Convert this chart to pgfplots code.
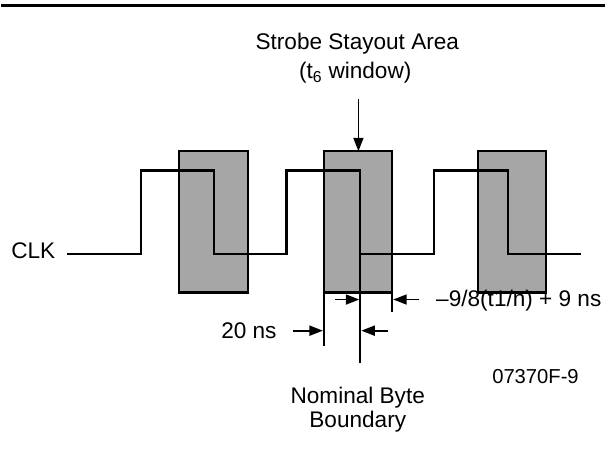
\documentclass[border=0pt]{standalone}
\usepackage{fontspec}
\setmainfont{Liberation Sans}
\usepackage{pgfplots}
\pgfplotsset{compat=1.18}
\usetikzlibrary{arrows.meta}
\definecolor{boxgray}{RGB}{166,166,166}
\tikzset{ln/.style={draw=black, line width=2.2pt, mark=none, line join=miter},
  ar/.style={draw=black, line width=1.8pt, mark=none, -{Triangle[length=13.5pt,width=10pt]}}}
\begin{document}
\fontsize{22.7}{27}\selectfont
\begin{tikzpicture}
\begin{axis}[
  width=606pt, height=458pt, scale only axis,
  xmin=0, xmax=606, ymin=0, ymax=458, y dir=reverse,
  hide axis, clip=false,
]
\path (axis cs:0,0) rectangle (axis cs:606,458);
% top rule
\addplot[ln, line width=3pt] coordinates {(0,5.8) (606,5.8)};
% stayout boxes
\addplot[ln, fill=boxgray] coordinates {(178.6,152) (247.4,152) (247.4,294) (178.6,294) (178.6,152)} -- cycle;
\addplot[ln, fill=boxgray] coordinates {(324,152) (392.7,152) (392.7,294) (324,294) (324,152)} -- cycle;
\addplot[ln, fill=boxgray] coordinates {(478.5,152) (547.4,152) (547.4,294) (478.5,294) (478.5,152)} -- cycle;
% clock
\addplot[ln] coordinates {(65.7,255.5) (140,255.5) (140,171.3) (213.4,171.3) (213.4,255.5) (286.4,255.5) (286.4,171.3) (360.6,171.3) (360.6,255.5) (434.5,255.5) (434.5,171.3) (508.7,171.3) (508.7,255.5) (582.5,255.5)};
% extension lines
\addplot[ln] coordinates {(324,294) (324,347.7)};
\addplot[ln] coordinates {(360.6,255.5) (360.6,365)};
\addplot[ln] coordinates {(392.7,294) (392.7,313.3)};
% arrows
\addplot[ar] coordinates {(358.7,99.7) (358.7,152)};
\addplot[ar] coordinates {(335,301) (359.6,301)};
\addplot[ar] coordinates {(420,301) (393.7,301)};
\addplot[ar] coordinates {(293,332.3) (323,332.3)};
\addplot[ar] coordinates {(388,332.3) (361.6,332.3)};
% texts
\node[anchor=base, inner sep=0pt] at (axis cs:357.6,50) {Strobe Stayout Area};
\node[anchor=base, inner sep=0pt] at (axis cs:355.5,79) {(t\textsubscript{6} window)};
\node[anchor=base west, inner sep=0pt] at (axis cs:9.7,260) {CLK};
\node[anchor=base west, inner sep=0pt] at (axis cs:436.7,307.7) {–9/8(t1/n) + 9 ns};
\node[anchor=base west, inner sep=0pt] at (axis cs:220.7,340) {20 ns};
\node[anchor=base west, inner sep=0pt, font=\fontsize{20.3}{24}\selectfont] at (axis cs:493,385) {07370F-9};
\node[anchor=base, inner sep=0pt] at (axis cs:358,405) {Nominal Byte};
\node[anchor=base, inner sep=0pt] at (axis cs:358,429.3) {Boundary};
\end{axis}
\end{tikzpicture}
\end{document}
